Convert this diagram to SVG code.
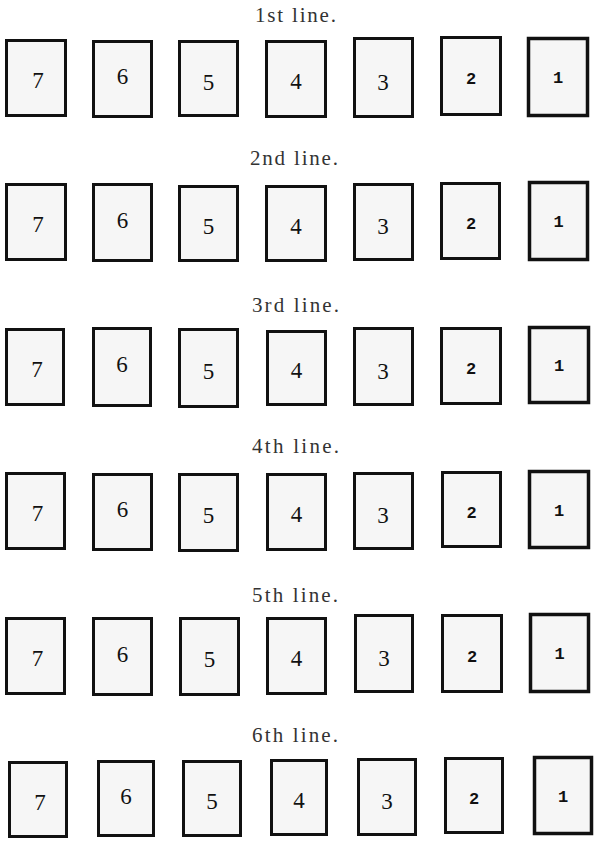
<svg xmlns="http://www.w3.org/2000/svg" width="600" height="843" viewBox="0 0 600 843">
<style>
.card{fill:#f6f6f6;stroke:#111;stroke-width:3}
.c1{stroke-width:3.5}
.t{font-family:"Liberation Serif",serif;font-size:21px;fill:#333;text-anchor:middle}
.d{font-family:"Liberation Serif",serif;font-size:23px;fill:#111;text-anchor:middle}
.m{font-family:"Liberation Mono",monospace;font-weight:bold;font-size:17px;fill:#111;text-anchor:middle}
</style>
<rect width="600" height="843" fill="#fff"/>
<g id="titles">
<text class="t" x="295.5" y="22" textLength="81" lengthAdjust="spacing">1st line.</text>
<text class="t" x="294" y="165" textLength="88" lengthAdjust="spacing">2nd line.</text>
<text class="t" x="295.5" y="312" textLength="87" lengthAdjust="spacing">3rd line.</text>
<text class="t" x="295.5" y="453" textLength="87" lengthAdjust="spacing">4th line.</text>
<text class="t" x="295" y="602" textLength="86" lengthAdjust="spacing">5th line.</text>
<text class="t" x="295" y="742" textLength="86" lengthAdjust="spacing">6th line.</text>
</g>
<g id="connectors"/>
<!-- Row 1 -->
<g id="r1-c7"><rect class="card" x="6.5" y="40.5" width="59" height="75"/><text class="d" x="38" y="88">7</text></g>
<g id="r1-c6"><rect class="card" x="93.5" y="41.5" width="58" height="75"/><text class="d" x="122.5" y="84">6</text></g>
<g id="r1-c5"><rect class="card" x="179.5" y="41.5" width="58" height="74"/><text class="d" x="208.5" y="89.5">5</text></g>
<g id="r1-c4"><rect class="card" x="266.5" y="41.5" width="59" height="75"/><text class="d" x="296" y="89">4</text></g>
<g id="r1-c3"><rect class="card" x="354.5" y="38.5" width="58" height="78"/><text class="d" x="383" y="90">3</text></g>
<g id="r1-c2"><rect class="card" x="441.5" y="37.5" width="59" height="77"/><text class="m" x="471" y="84">2</text></g>
<g id="r1-c1"><rect class="card c1" x="528.5" y="38.5" width="59" height="77"/><text class="m" x="558" y="83">1</text></g>
<!-- Row 2 -->
<g id="r2-c7"><rect class="card" x="6.5" y="184.5" width="59" height="75"/><text class="d" x="38" y="232">7</text></g>
<g id="r2-c6"><rect class="card" x="93.5" y="184.5" width="58" height="76"/><text class="d" x="122.5" y="227.5">6</text></g>
<g id="r2-c5"><rect class="card" x="179.5" y="186.5" width="58" height="74"/><text class="d" x="208.5" y="234">5</text></g>
<g id="r2-c4"><rect class="card" x="266.5" y="186.5" width="59" height="74"/><text class="d" x="296" y="233.5">4</text></g>
<g id="r2-c3"><rect class="card" x="354.5" y="184.5" width="58" height="75"/><text class="d" x="383" y="234">3</text></g>
<g id="r2-c2"><rect class="card" x="441.5" y="183.5" width="58" height="75"/><text class="m" x="471" y="229">2</text></g>
<g id="r2-c1"><rect class="card c1" x="529.5" y="182.5" width="58" height="77"/><text class="m" x="558.5" y="227">1</text></g>
<!-- Row 3 -->
<g id="r3-c7"><rect class="card" x="6.5" y="329.5" width="57" height="75"/><text class="d" x="37" y="377">7</text></g>
<g id="r3-c6"><rect class="card" x="93.5" y="328.5" width="57" height="77"/><text class="d" x="122" y="372">6</text></g>
<g id="r3-c5"><rect class="card" x="179.5" y="329.5" width="58" height="77"/><text class="d" x="208.5" y="378.5">5</text></g>
<g id="r3-c4"><rect class="card" x="267.5" y="331.5" width="58" height="73"/><text class="d" x="296.5" y="378">4</text></g>
<g id="r3-c3"><rect class="card" x="354.5" y="328.5" width="58" height="76"/><text class="d" x="383" y="378.5">3</text></g>
<g id="r3-c2"><rect class="card" x="441.5" y="328.5" width="59" height="75"/><text class="m" x="471" y="374">2</text></g>
<g id="r3-c1"><rect class="card c1" x="529.5" y="327.5" width="59" height="75"/><text class="m" x="559" y="371">1</text></g>
<!-- Row 4 -->
<g id="r4-c7"><rect class="card" x="6.5" y="473.5" width="58" height="75"/><text class="d" x="37.5" y="521">7</text></g>
<g id="r4-c6"><rect class="card" x="93.5" y="474.5" width="58" height="75"/><text class="d" x="122.5" y="517">6</text></g>
<g id="r4-c5"><rect class="card" x="179.5" y="474.5" width="58" height="76"/><text class="d" x="208.5" y="523">5</text></g>
<g id="r4-c4"><rect class="card" x="267.5" y="474.5" width="58" height="75"/><text class="d" x="296.5" y="522">4</text></g>
<g id="r4-c3"><rect class="card" x="354.5" y="473.5" width="58" height="75"/><text class="d" x="383" y="523">3</text></g>
<g id="r4-c2"><rect class="card" x="442.5" y="472.5" width="58" height="74"/><text class="m" x="471.5" y="517.5">2</text></g>
<g id="r4-c1"><rect class="card c1" x="529.5" y="471.5" width="59" height="76"/><text class="m" x="559" y="515.5">1</text></g>
<!-- Row 5 -->
<g id="r5-c7"><rect class="card" x="6.5" y="618.5" width="58" height="75"/><text class="d" x="37.5" y="666">7</text></g>
<g id="r5-c6"><rect class="card" x="93.5" y="618.5" width="58" height="76"/><text class="d" x="122.5" y="661.5">6</text></g>
<g id="r5-c5"><rect class="card" x="180.5" y="618.5" width="58" height="76"/><text class="d" x="209.5" y="667">5</text></g>
<g id="r5-c4"><rect class="card" x="267.5" y="618.5" width="58" height="75"/><text class="d" x="296.5" y="666">4</text></g>
<g id="r5-c3"><rect class="card" x="355.5" y="615.5" width="57" height="76"/><text class="d" x="384" y="666">3</text></g>
<g id="r5-c2"><rect class="card" x="442.5" y="615.5" width="59" height="76"/><text class="m" x="472" y="661.5">2</text></g>
<g id="r5-c1"><rect class="card c1" x="530.5" y="614.5" width="58" height="77"/><text class="m" x="559.5" y="659">1</text></g>
<!-- Row 6 -->
<g id="r6-c7"><rect class="card" x="9.5" y="762.5" width="57" height="74"/><text class="d" x="40" y="809.5">7</text></g>
<g id="r6-c6"><rect class="card" x="98.5" y="761.5" width="55" height="74"/><text class="d" x="126" y="803.5">6</text></g>
<g id="r6-c5"><rect class="card" x="183.5" y="761.5" width="57" height="74"/><text class="d" x="212" y="809">5</text></g>
<g id="r6-c4"><rect class="card" x="271.5" y="760.5" width="55" height="74"/><text class="d" x="299" y="807.5">4</text></g>
<g id="r6-c3"><rect class="card" x="358.5" y="759.5" width="57" height="75"/><text class="d" x="387" y="809">3</text></g>
<g id="r6-c2"><rect class="card" x="445.5" y="758.5" width="57" height="74"/><text class="m" x="474" y="803.5">2</text></g>
<g id="r6-c1"><rect class="card c1" x="534.5" y="757.5" width="57" height="76"/><text class="m" x="563" y="801.5">1</text></g>
</svg>
